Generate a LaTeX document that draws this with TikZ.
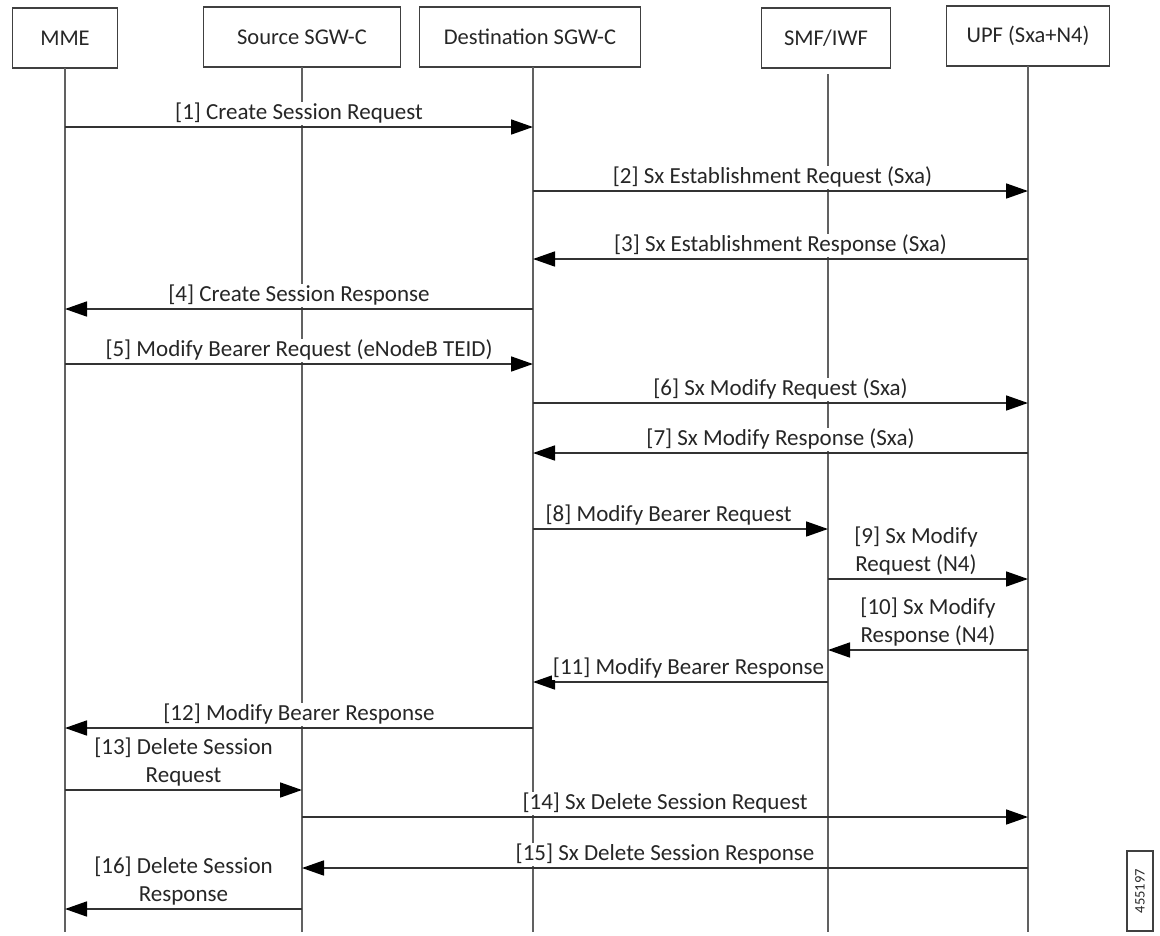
\documentclass[tikz,border=0pt]{standalone}
\usepackage{fontspec}
\setmainfont{Carlito}
\usetikzlibrary{arrows.meta}
\begin{document}
\begin{tikzpicture}[x=1pt,y=-1pt,
  box/.style={draw=black!75, line width=1.4pt, minimum height=60pt, inner sep=0pt,
    font=\fontsize{22.5}{26}\selectfont, text=black!85},
  life/.style={draw=black!62, line width=1.8pt},
  msg/.style={draw=black!80, line width=1.7pt, -{Triangle[length=22pt,width=15pt,color=black]}},
  lbl/.style={fill=white, inner sep=1pt, anchor=south, yshift=1.5pt,
    font=\fontsize{23}{28}\selectfont, text=black!85, align=center}]
\useasboundingbox (0,0) rectangle (1160,935);
% participants
\node[box, minimum width=105pt] (mme) at (65,38) {MME};
\node[box, minimum width=197pt] (src) at (302,37) {Source SGW-C};
\node[box, minimum width=221pt] (dst) at (530,37) {Destination SGW-C};
\node[box, minimum width=129pt] (smf) at (826,38) {SMF/IWF};
\node[box, minimum width=163pt] (upf) at (1028,36) {UPF (Sxa+N4)};
% lifeline tops and ends
\coordinate (mmeT) at (65,68);   \coordinate (mmeE) at (65,932);
\coordinate (srcT) at (302,67);  \coordinate (srcE) at (302,932);
\coordinate (dstT) at (533,67);  \coordinate (dstE) at (533,932);
\coordinate (smfT) at (828,74);  \coordinate (smfE) at (828,932);
\coordinate (upfT) at (1028,66); \coordinate (upfE) at (1028,932);
\draw[life] (mmeT) -- (mmeE);
\draw[life] (srcT) -- (srcE);
\draw[life] (dstT) -- (dstE);
\draw[life] (smfT) -- (smfE);
\draw[life] (upfT) -- (upfE);
% messages
\draw[msg] (mmeT |- 0,127) -- node[lbl]{[1] Create Session Request} (dstT |- 0,127);
\draw[msg] (dstT |- 0,191) -- node[lbl, xshift=-8pt]{[2] Sx Establishment Request (Sxa)} (upfT |- 0,191);
\draw[msg] (upfT |- 0,259) -- node[lbl]{[3] Sx Establishment Response (Sxa)} (dstT |- 0,259);
\draw[msg] (dstT |- 0,309) -- node[lbl]{[4] Create Session Response} (mmeT |- 0,309);
\draw[msg] (mmeT |- 0,364) -- node[lbl]{[5] Modify Bearer Request (eNodeB TEID)} (dstT |- 0,364);
\draw[msg] (dstT |- 0,403) -- node[lbl]{[6] Sx Modify Request (Sxa)} (upfT |- 0,403);
\draw[msg] (upfT |- 0,453) -- node[lbl]{[7] Sx Modify Response (Sxa)} (dstT |- 0,453);
\draw[msg] (dstT |- 0,529) -- node[lbl, xshift=-12pt]{[8] Modify Bearer Request} (smfT |- 0,529);
\draw[msg] (smfT |- 0,579) -- node[lbl, xshift=-12pt]{[9] Sx Modify\\Request (N4)} (upfT |- 0,579);
\draw[msg] (upfT |- 0,650) -- node[lbl]{[10] Sx Modify\\Response (N4)} (smfT |- 0,650);
\draw[msg] (smfT |- 0,682) -- node[lbl, xshift=8pt]{[11] Modify Bearer Response} (dstT |- 0,682);
\draw[msg] (dstT |- 0,728) -- node[lbl]{[12] Modify Bearer Response} (mmeT |- 0,728);
\draw[msg] (mmeT |- 0,790) -- node[lbl]{[13] Delete Session\\Request} (srcT |- 0,790);
\draw[msg] (srcT |- 0,817) -- node[lbl]{[14] Sx Delete Session Request} (upfT |- 0,817);
\draw[msg] (upfT |- 0,868) -- node[lbl]{[15] Sx Delete Session Response} (srcT |- 0,868);
\draw[msg] (srcT |- 0,909) -- node[lbl]{[16] Delete Session\\Response} (mmeT |- 0,909);
% figure number
\node[draw=black!75, line width=1.2pt, rotate=90, minimum width=80pt, minimum height=26pt,
  inner sep=0pt, font=\fontsize{14.5}{16}\selectfont, text=black!85] (fig) at (1140,891) {455197};
\end{tikzpicture}
\end{document}
